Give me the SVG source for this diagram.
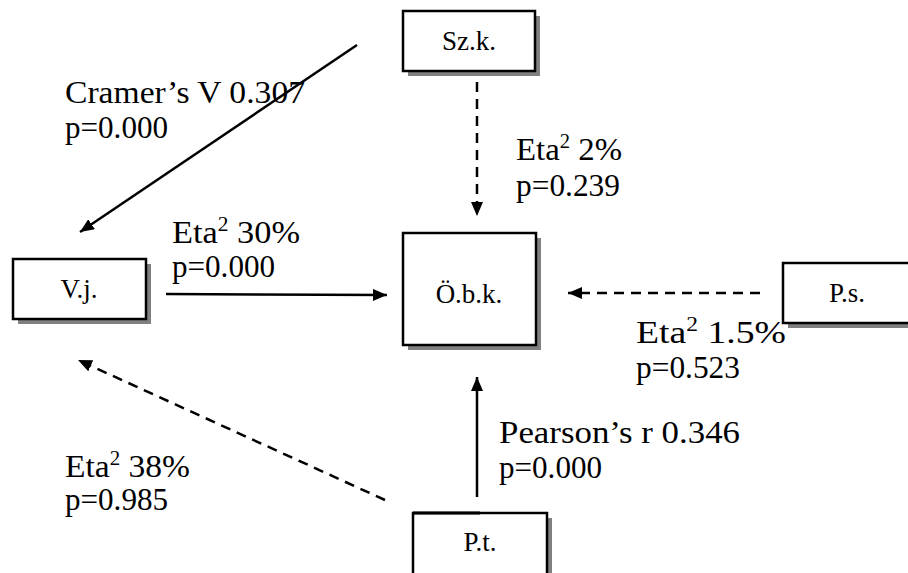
<svg xmlns="http://www.w3.org/2000/svg" width="908" height="573" viewBox="0 0 908 573">
<defs>
<marker id="ah" markerWidth="14" markerHeight="12" refX="14" refY="6" orient="auto" markerUnits="userSpaceOnUse">
<path d="M0,0 L14,6 L0,12 Z" fill="#000"/>
</marker>
</defs>
<style>
.box{fill:#fff;stroke:#000;stroke-width:2.5}
.sh{fill:#808080}
text{font-family:'Liberation Serif','Times New Roman',Tinos,'DejaVu Serif',serif;fill:#000}
.bt{font-size:27px;text-anchor:middle}
.lb{font-size:32px}
.sup{font-size:20px}
.c{stroke:#000;stroke-width:2.5;fill:none}
.d{stroke-dasharray:10,7}
</style>
<rect width="908" height="573" fill="#fff"/>
<g id="connectors">
<line class="c" x1="357" y1="45" x2="80" y2="232" marker-end="url(#ah)"/>
<line class="c d" x1="477" y1="82" x2="477" y2="216" marker-end="url(#ah)"/>
<line class="c" x1="166" y1="294" x2="387" y2="295" marker-end="url(#ah)"/>
<line class="c d" x1="760" y1="293" x2="568" y2="293" marker-end="url(#ah)"/>
<line class="c" x1="477" y1="497" x2="477" y2="377" marker-end="url(#ah)"/>
<line class="c d" x1="385" y1="500" x2="78" y2="360" marker-end="url(#ah)"/>
</g>
<g id="szk">
<rect class="sh" x="408" y="16" width="132" height="60"/>
<rect class="box" x="403" y="11" width="132" height="60"/>
<text class="bt" x="469" y="50">Sz.k.</text>
</g>
<g id="vj">
<rect class="sh" x="18" y="264" width="133" height="60"/>
<rect class="box" x="13" y="259" width="133" height="60"/>
<text class="bt" x="79" y="298">V.j.</text>
</g>
<g id="obk">
<rect class="sh" x="408" y="238" width="133" height="112"/>
<rect class="box" x="403" y="233" width="133" height="112"/>
<text class="bt" x="469" y="303">Ö.b.k.</text>
</g>
<g id="ps">
<rect class="sh" x="788" y="268" width="130" height="60"/>
<rect class="box" x="783" y="263" width="130" height="60"/>
<text class="bt" x="847" y="302">P.s.</text>
</g>
<g id="pt">
<rect class="sh" x="418" y="518" width="134" height="70"/>
<rect class="box" x="413" y="513" width="134" height="70" stroke-width="2"/>
<line x1="413" y1="513" x2="480" y2="513" stroke="#000" stroke-width="3"/>
<text class="bt" x="480" y="551">P.t.</text>
</g>
<g id="labels">
<text class="lb" x="65" y="103" textLength="240" lengthAdjust="spacingAndGlyphs">Cramer’s V 0.307</text>
<text class="lb" x="65" y="138" textLength="103" lengthAdjust="spacingAndGlyphs">p=0.000</text>
<text class="lb" x="516" y="160" textLength="106" lengthAdjust="spacingAndGlyphs">Eta<tspan class="sup" dy="-12">2</tspan><tspan dy="12"> 2%</tspan></text>
<text class="lb" x="516" y="196" textLength="104" lengthAdjust="spacingAndGlyphs">p=0.239</text>
<text class="lb" x="172" y="243" textLength="128" lengthAdjust="spacingAndGlyphs">Eta<tspan class="sup" dy="-12">2</tspan><tspan dy="12"> 30%</tspan></text>
<text class="lb" x="172" y="277" textLength="103" lengthAdjust="spacingAndGlyphs">p=0.000</text>
<text class="lb" x="636" y="343" textLength="150" lengthAdjust="spacingAndGlyphs">Eta<tspan class="sup" dy="-12">2</tspan><tspan dy="12"> 1.5%</tspan></text>
<text class="lb" x="636" y="378" textLength="104" lengthAdjust="spacingAndGlyphs">p=0.523</text>
<text class="lb" x="499" y="443" textLength="241" lengthAdjust="spacingAndGlyphs">Pearson’s r 0.346</text>
<text class="lb" x="499" y="478" textLength="103" lengthAdjust="spacingAndGlyphs">p=0.000</text>
<text class="lb" x="65" y="477" textLength="125" lengthAdjust="spacingAndGlyphs">Eta<tspan class="sup" dy="-12">2</tspan><tspan dy="12"> 38%</tspan></text>
<text class="lb" x="65" y="510" textLength="103" lengthAdjust="spacingAndGlyphs">p=0.985</text>
</g>
</svg>
